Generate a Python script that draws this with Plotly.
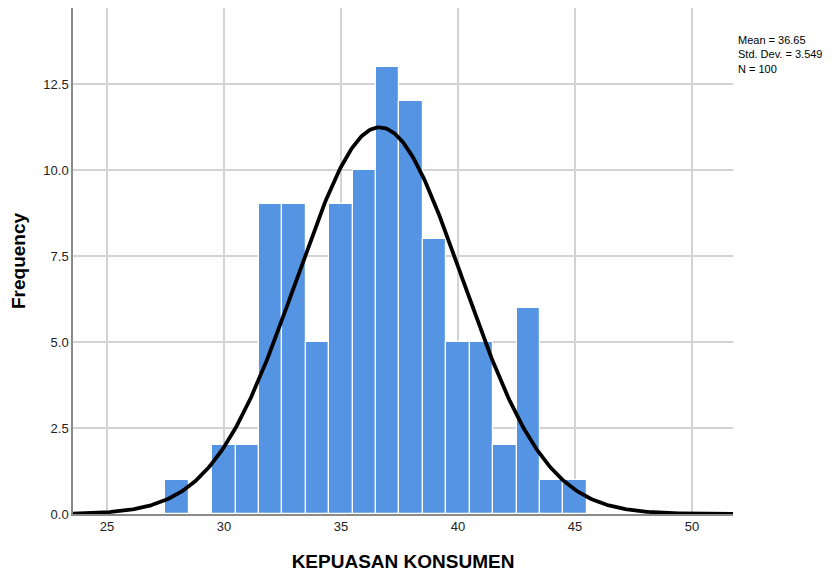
import numpy as np
import plotly.graph_objects as go

# Data
scores = [28, 29, 30, 31, 32, 33, 34, 35, 36, 37, 38, 39, 40, 41, 42, 43, 44, 45]
frequency = [1, 0, 2, 2, 9, 9, 5, 9, 10, 13, 12, 8, 5, 5, 2, 6, 1, 1]
x_ticks = [25, 30, 35, 40, 45, 50]
y_ticks = [0.0, 2.5, 5.0, 7.5, 10.0, 12.5]
mean_val = 36.65
std_val = 3.549
n_val = 100

x_range = [23.55, 51.75]
y_range = [0, 14.71]

# normal curve from reported statistics (bin width 1)
xc = np.linspace(x_range[0], x_range[1], 400)
yc = n_val * 1.0 / (std_val * np.sqrt(2 * np.pi)) * np.exp(-0.5 * ((xc - mean_val) / std_val) ** 2)

fig = go.Figure()
fig.add_trace(go.Bar(
    x=scores, y=frequency, width=1,
    marker=dict(color="#5594e2", line=dict(color="white", width=1.2)),
    hoverinfo="x+y", showlegend=False,
))
fig.add_trace(go.Scatter(
    x=xc, y=yc, mode="lines",
    line=dict(color="black", width=3.8), showlegend=False, hoverinfo="skip",
))

fig.update_layout(
    width=831, height=565,
    margin=dict(l=65, r=106, t=0, b=59, pad=0),
    plot_bgcolor="white", paper_bgcolor="white",
    bargap=0,
    font=dict(family="Liberation Sans, Arial, sans-serif", size=13, color="#222"),
    xaxis=dict(
        range=x_range, tickvals=x_ticks, ticktext=[str(v) for v in x_ticks],
        showgrid=True, gridcolor="#d3d3d3", gridwidth=1.5,
        showline=True, linecolor="#8a8a8a", linewidth=1.5,
        zeroline=False, ticks="", ticklen=0,
        title=dict(text="<b>KEPUASAN KONSUMEN</b>", font=dict(size=19, color="black"), standoff=21),
        tickfont=dict(size=13, color="#222"),
    ),
    yaxis=dict(
        range=y_range, tickvals=y_ticks, ticktext=[f"{v:.1f}" for v in y_ticks],
        showgrid=True, gridcolor="#d3d3d3", gridwidth=1.5,
        showline=True, linecolor="#8a8a8a", linewidth=1.5,
        zeroline=False, ticks="", ticklen=0,
        title=dict(text="<b>Frequency</b>", font=dict(size=19, color="black"), standoff=13),
        tickfont=dict(size=13, color="#222"),
    ),
    annotations=[dict(
        x=1.005, y=0.952, xref="paper", yref="paper", xanchor="left", yanchor="top",
        align="left", showarrow=False,
        text=f"Mean = {mean_val}<br>Std. Dev. = {std_val}<br>N = {n_val}",
        font=dict(size=11, color="black"),
    )],
)

fig.write_html("out.html")
